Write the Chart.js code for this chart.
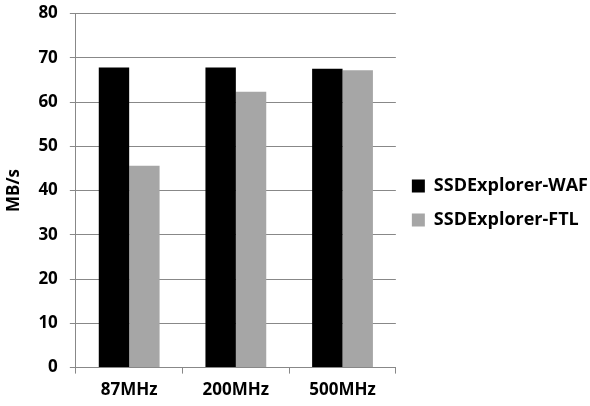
<!DOCTYPE html>
<html>
<head>
<meta charset="utf-8">
<script src="https://cdn.jsdelivr.net/npm/chart.js@4"></script>
<style>
  body { margin: 0; background: #fff; }
  #wrap { width: 590px; height: 406px; }
</style>
</head>
<body>
<div id="wrap"><canvas id="myChart" width="590" height="406"></canvas></div>
<script>
var categories = ['87MHz', '200MHz', '500MHz'];
var wafValues = [67.8, 67.8, 67.5];
var ftlValues = [45.6, 62.3, 67.2];
var yTicks = [0, 10, 20, 30, 40, 50, 60, 70, 80];

function drawChart() {
  var ctx = document.getElementById('myChart').getContext('2d');
  var font = { family: 'Open Sans', weight: 'bold', size: 17 };
  var yFont = { family: 'Open Sans', weight: 'bold', size: 17, lineHeight: 0.18 };
  var legendFont = { family: 'Open Sans', weight: 'bold', size: 18 };
  var myChart = new Chart(ctx, {
      type: 'bar',
      data: {
          labels: categories,
          datasets: [{
              label: 'SSDExplorer-WAF',
              data: wafValues,
              backgroundColor: '#000000',
              barPercentage: 1,
              categoryPercentage: 0.57
          }, {
              label: 'SSDExplorer-FTL',
              data: ftlValues,
              backgroundColor: '#a6a6a6',
              barPercentage: 1,
              categoryPercentage: 0.57
          }]
      },
      options: {
          responsive: false,
          animation: false,
          layout: { padding: { top: 0, left: 2, right: -8, bottom: 0 } },
          scales: {
              x: {
                  grid: { drawOnChartArea: false, offset: true, tickLength: 6, color: '#888' },
                  border: { color: '#888' },
                  ticks: { font: font, color: '#000', padding: 6 }
              },
              y: {
                  min: 0,
                  max: 80,
                  afterBuildTicks: function (axis) {
                      axis.ticks = yTicks.map(function (v) { return { value: v }; });
                  },
                  grid: { color: '#888', tickLength: 6 },
                  border: { color: '#888' },
                  ticks: { font: yFont, color: '#000', padding: 12 },
                  title: { display: true, text: 'MB/s', font: font, color: '#000', padding: 2 }
              }
          },
          plugins: {
              legend: {
                  position: 'right',
                  maxWidth: 260,
                  labels: {
                      font: legendFont,
                      color: '#000',
                      boxWidth: 13,
                      boxHeight: 13,
                      padding: 16
                  }
              },
              tooltip: { enabled: false }
          }
      }
  });
}

document.addEventListener('DOMContentLoaded', (event) => {
  document.fonts.load('bold 17px "Open Sans"').then(drawChart, drawChart);
});
</script>
</body>
</html>
